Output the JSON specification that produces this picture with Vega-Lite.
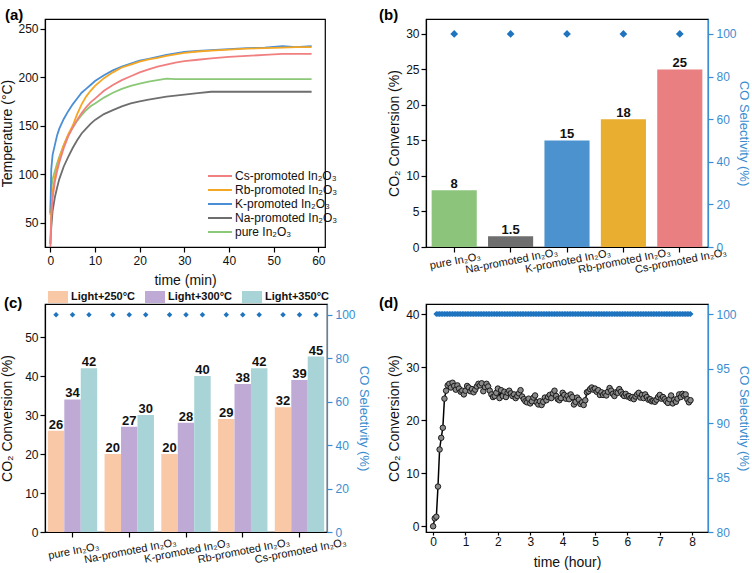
{
  "$schema": "https://vega.github.io/schema/vega-lite/v6.json",
  "padding": {"top": 7, "left": 0, "right": 3, "bottom": 0},
  "config": {
    "font": "Liberation Sans",
    "view": {"stroke": "black", "strokeWidth": 1.2},
    "axis": {"grid": false, "domainColor": "black", "tickColor": "black", "labelColor": "#111", "titleColor": "#111", "labelFontSize": 12, "titleFontSize": 14, "titleFontWeight": "normal", "tickSize": 5, "labelPadding": 2, "domainWidth": 1.2, "tickWidth": 1.2, "labelFlush": false, "labelOverlap": false, "zindex": 1},
    "title": {"fontSize": 15, "fontWeight": "bold", "anchor": "start", "frame": "group", "color": "black"}
  },
  "resolve": {"scale": {"color": "independent"}, "legend": {"color": "independent"}},
  "columns": 2,
  "spacing": {"row": 57, "column": 99},
  "bounds": "flush",
  "concat": [
    {
      "width": 280, "height": 228,
      "title": {"text": "(a)", "dx": -40, "offset": -4},
      "data": {"values": [
        {"t":0,"Cs":25,"Rb":28,"K":60,"Na":28,"pure":58},
        {"t":0.2,"Cs":55,"Rb":60,"K":105,"Na":45,"pure":85},
        {"t":0.5,"Cs":75,"Rb":82,"K":120,"Na":62,"pure":95},
        {"t":1,"Cs":92,"Rb":97,"K":130,"Na":76,"pure":103},
        {"t":1.5,"Cs":103,"Rb":107,"K":140,"Na":86,"pure":111},
        {"t":2,"Cs":112,"Rb":116,"K":147,"Na":95,"pure":118},
        {"t":3,"Cs":127,"Rb":130,"K":157,"Na":108,"pure":130},
        {"t":4,"Cs":139,"Rb":141,"K":165,"Na":118,"pure":140},
        {"t":5,"Cs":148,"Rb":150,"K":172,"Na":127,"pure":148},
        {"t":6,"Cs":156,"Rb":162,"K":178,"Na":135,"pure":155},
        {"t":7,"Cs":163,"Rb":172,"K":184,"Na":142,"pure":161},
        {"t":8,"Cs":169,"Rb":180,"K":188,"Na":147,"pure":166},
        {"t":9,"Cs":174,"Rb":186,"K":192,"Na":152,"pure":170},
        {"t":10,"Cs":178,"Rb":191,"K":196,"Na":156,"pure":173},
        {"t":12,"Cs":186,"Rb":199,"K":202,"Na":162,"pure":179},
        {"t":14,"Cs":192,"Rb":205,"K":207,"Na":166,"pure":184},
        {"t":16,"Cs":197,"Rb":210,"K":211,"Na":170,"pure":188},
        {"t":18,"Cs":201,"Rb":213,"K":214,"Na":173,"pure":191},
        {"t":20,"Cs":205,"Rb":216,"K":217,"Na":175,"pure":193.5},
        {"t":22,"Cs":208,"Rb":218.5,"K":219,"Na":177,"pure":195.5},
        {"t":24,"Cs":211,"Rb":220,"K":221,"Na":178.5,"pure":197},
        {"t":26,"Cs":213,"Rb":222,"K":223,"Na":180,"pure":198.5},
        {"t":28,"Cs":215,"Rb":223.5,"K":224.5,"Na":181,"pure":198},
        {"t":30,"Cs":216.5,"Rb":225,"K":226,"Na":182,"pure":198},
        {"t":33,"Cs":218,"Rb":226.5,"K":227,"Na":183.5,"pure":198},
        {"t":36,"Cs":219.5,"Rb":227.5,"K":228,"Na":185,"pure":198},
        {"t":40,"Cs":221,"Rb":228.5,"K":229,"Na":185,"pure":198},
        {"t":44,"Cs":222,"Rb":229.5,"K":230,"Na":185,"pure":198},
        {"t":48,"Cs":223,"Rb":230,"K":230.5,"Na":185,"pure":198},
        {"t":52,"Cs":224,"Rb":230.5,"K":232,"Na":185,"pure":198},
        {"t":55,"Cs":224,"Rb":231,"K":231,"Na":185,"pure":198},
        {"t":58.5,"Cs":224,"Rb":231,"K":232,"Na":185,"pure":198}
      ]},
      "transform": [{"fold": ["pure", "Na", "K", "Rb", "Cs"], "as": ["s", "T"]}],
      "mark": {"type": "line", "strokeWidth": 1.8, "clip": true},
      "encoding": {
        "x": {"field": "t", "type": "quantitative", "scale": {"domain": [-1.2, 61.5], "nice": false, "zero": false}, "axis": {"title": "time (min)", "values": [0, 10, 20, 30, 40, 50, 60], "labelPadding": 3, "titlePadding": 7}},
        "y": {"field": "T", "type": "quantitative", "scale": {"domain": [25, 260], "nice": false, "zero": false}, "axis": {"title": "Temperature (°C)", "values": [50, 100, 150, 200, 250], "titlePadding": 3}},
        "color": {"field": "s", "type": "nominal", "scale": {"domain": ["Cs", "Rb", "K", "Na", "pure"], "range": ["#F07F7F", "#F5A623", "#4A8FD6", "#6E6E6E", "#8BC878"]},
          "legend": {"orient": "none", "direction": "vertical", "legendX": 168, "legendY": 150, "title": null, "symbolType": "M-2,0H2", "symbolSize": 144, "symbolStrokeWidth": 2, "labelFontSize": 12, "labelOffset": 8, "rowPadding": 1, "padding": 0, "labelColor": "#111",
            "labelExpr": "{'Cs':'Cs-promoted In₂O₃','Rb':'Rb-promoted In₂O₃','K':'K-promoted In₂O₃','Na':'Na-promoted In₂O₃','pure':'pure In₂O₃'}[datum.label]"}}
      }
    },
    {
      "width": 282, "height": 228,
      "title": {"text": "(b)", "dx": -47, "offset": -4},
      "data": {"values": [
        {"cat": "pure In₂O₃", "conv": 8, "sel": 100},
        {"cat": "Na-promoted In₂O₃", "conv": 1.5, "sel": 100},
        {"cat": "K-promoted In₂O₃", "conv": 15, "sel": 100},
        {"cat": "Rb-promoted In₂O₃", "conv": 18, "sel": 100},
        {"cat": "Cs-promoted In₂O₃", "conv": 25, "sel": 100}
      ]},
      "encoding": {
        "x": {"field": "cat", "type": "nominal", "sort": null, "scale": {"paddingInner": 0.2, "paddingOuter": 0.1}, "axis": {"title": null, "labelAngle": -11, "labelAlign": "center", "labelBaseline": "top", "labelFontSize": 11, "labelDx": -11, "labelPadding": 3}}
      },
      "layer": [
        {"mark": {"type": "bar", "opacity": 1}, "encoding": {
          "y": {"field": "conv", "type": "quantitative", "stack": null, "scale": {"domain": [0, 32.1], "nice": false}, "axis": {"title": "CO₂ Conversion (%)", "values": [0, 5, 10, 15, 20, 25, 30], "titlePadding": 4}},
          "color": {"field": "cat", "type": "nominal", "scale": {"domain": ["pure In₂O₃", "Na-promoted In₂O₃", "K-promoted In₂O₃", "Rb-promoted In₂O₃", "Cs-promoted In₂O₃"], "range": ["#8DC47B", "#6E6E6E", "#4C92CE", "#E9AE2F", "#E97F80"]}, "legend": null}}},
        {"mark": {"type": "text", "fontWeight": "bold", "fontSize": 13, "baseline": "alphabetic", "dy": -2, "color": "#111"}, "encoding": {
          "y": {"field": "conv", "type": "quantitative", "scale": {"domain": [0, 32.1], "nice": false}, "axis": null},
          "text": {"field": "conv", "type": "quantitative", "format": ""}}},
        {"mark": {"type": "point", "shape": "diamond", "filled": true, "size": 60, "color": "#1F74BF", "opacity": 1}, "encoding": {
          "y": {"field": "sel", "type": "quantitative", "scale": {"domain": [0, 107], "nice": false}, "axis": {"orient": "right", "title": "CO Selectivity (%)", "values": [0, 20, 40, 60, 80, 100], "domainColor": "#3A8DD0", "tickColor": "#3A8DD0", "labelColor": "#3A8DD0", "titleColor": "#3A8DD0", "labelPadding": 3, "titlePadding": 0, "titleFontSize": 13}}}}
      ],
      "resolve": {"scale": {"y": "independent"}}
    },
    {
      "width": 282, "height": 228,
      "title": {"text": "(c)", "dx": -41, "offset": -24},
      "data": {"values": [
        {"cat": "pure In₂O₃", "temp": "Light+250°C", "conv": 26, "sel": 100},
        {"cat": "pure In₂O₃", "temp": "Light+300°C", "conv": 34, "sel": 100},
        {"cat": "pure In₂O₃", "temp": "Light+350°C", "conv": 42, "sel": 100},
        {"cat": "Na-promoted In₂O₃", "temp": "Light+250°C", "conv": 20, "sel": 100},
        {"cat": "Na-promoted In₂O₃", "temp": "Light+300°C", "conv": 27, "sel": 100},
        {"cat": "Na-promoted In₂O₃", "temp": "Light+350°C", "conv": 30, "sel": 100},
        {"cat": "K-promoted In₂O₃", "temp": "Light+250°C", "conv": 20, "sel": 100},
        {"cat": "K-promoted In₂O₃", "temp": "Light+300°C", "conv": 28, "sel": 100},
        {"cat": "K-promoted In₂O₃", "temp": "Light+350°C", "conv": 40, "sel": 100},
        {"cat": "Rb-promoted In₂O₃", "temp": "Light+250°C", "conv": 29, "sel": 100},
        {"cat": "Rb-promoted In₂O₃", "temp": "Light+300°C", "conv": 38, "sel": 100},
        {"cat": "Rb-promoted In₂O₃", "temp": "Light+350°C", "conv": 42, "sel": 100},
        {"cat": "Cs-promoted In₂O₃", "temp": "Light+250°C", "conv": 32, "sel": 100},
        {"cat": "Cs-promoted In₂O₃", "temp": "Light+300°C", "conv": 39, "sel": 100},
        {"cat": "Cs-promoted In₂O₃", "temp": "Light+350°C", "conv": 45, "sel": 100}
      ]},
      "encoding": {
        "x": {"field": "cat", "type": "nominal", "sort": null, "scale": {"paddingInner": 0.13, "paddingOuter": 0.05}, "axis": {"title": null, "labelAngle": -11, "labelAlign": "center", "labelBaseline": "top", "labelFontSize": 11, "labelPadding": 8}},
        "xOffset": {"field": "temp", "type": "nominal", "sort": null, "scale": {"paddingInner": 0, "paddingOuter": 0}}
      },
      "layer": [
        {"mark": {"type": "bar", "opacity": 1}, "encoding": {
          "y": {"field": "conv", "type": "quantitative", "stack": null, "scale": {"domain": [0, 58.5], "nice": false}, "axis": {"title": "CO₂ Conversion (%)", "values": [0, 10, 20, 30, 40, 50], "titlePadding": 10}},
          "color": {"field": "temp", "type": "nominal", "scale": {"domain": ["Light+250°C", "Light+300°C", "Light+350°C"], "range": ["#F9C8A6", "#BFAAD6", "#A8D3D7"]},
            "legend": {"orient": "none", "direction": "horizontal", "legendX": 3, "legendY": -17, "title": null, "symbolType": "M-1,-0.6H1V0.6H-1Z", "symbolSize": 400, "symbolStrokeWidth": 0, "symbolOpacity": 1, "labelFontSize": 11, "labelFontWeight": "bold", "labelOffset": 3, "columnPadding": 10, "padding": 0, "labelColor": "#111"}}}},
        {"mark": {"type": "text", "fontWeight": "bold", "fontSize": 13, "baseline": "alphabetic", "dy": -2, "color": "#111"}, "encoding": {
          "y": {"field": "conv", "type": "quantitative", "scale": {"domain": [0, 58.5], "nice": false}, "axis": null},
          "text": {"field": "conv", "type": "quantitative", "format": ""}}},
        {"mark": {"type": "point", "shape": "diamond", "filled": true, "size": 30, "color": "#1F74BF", "opacity": 1}, "encoding": {
          "y": {"field": "sel", "type": "quantitative", "scale": {"domain": [0, 105], "nice": false}, "axis": {"orient": "right", "title": "CO Selectivity (%)", "values": [0, 20, 40, 60, 80, 100], "domainColor": "#3A8DD0", "tickColor": "#3A8DD0", "labelColor": "#3A8DD0", "titleColor": "#3A8DD0", "labelPadding": 3, "titlePadding": 1, "titleFontSize": 13}}}}
      ],
      "resolve": {"scale": {"y": "independent"}}
    },
    {
      "width": 282, "height": 228,
      "title": {"text": "(d)", "dx": -47, "offset": -7},
      "data": {"values": [
        {"t":0,"v":0},{"t":0.05,"v":1.5},{"t":0.1,"v":1.8,"s":100},{"t":0.15,"v":7.5,"s":100},{"t":0.2,"v":14.5,"s":100},{"t":0.25,"v":16.7,"s":100},{"t":0.3,"v":18.6,"s":100},{"t":0.35,"v":24.1,"s":100},{"t":0.4,"v":25.6,"s":100},{"t":0.45,"v":26.6,"s":100},
        {"t":0.5,"v":26.9,"s":100},{"t":0.55,"v":26.2,"s":100},{"t":0.6,"v":27.1,"s":100},{"t":0.65,"v":26.5,"s":100},{"t":0.7,"v":25.8,"s":100},{"t":0.75,"v":26.6,"s":100},{"t":0.8,"v":26.0,"s":100},{"t":0.85,"v":25.4,"s":100},{"t":0.9,"v":25.6,"s":100},{"t":0.95,"v":24.9,"s":100},
        {"t":1.0,"v":25.6,"s":100},{"t":1.05,"v":26.5,"s":100},{"t":1.1,"v":26.2,"s":100},{"t":1.15,"v":25.5,"s":100},{"t":1.2,"v":25.9,"s":100},{"t":1.25,"v":25.3,"s":100},{"t":1.3,"v":25.8,"s":100},{"t":1.35,"v":26.4,"s":100},{"t":1.4,"v":26.9,"s":100},{"t":1.45,"v":26.6,"s":100},
        {"t":1.5,"v":27.0,"s":100},{"t":1.55,"v":25.5,"s":100},{"t":1.6,"v":26.3,"s":100},{"t":1.65,"v":26.9,"s":100},{"t":1.7,"v":26.4,"s":100},{"t":1.75,"v":25.6,"s":100},{"t":1.8,"v":24.9,"s":100},{"t":1.85,"v":24.4,"s":100},{"t":1.9,"v":24.6,"s":100},{"t":1.95,"v":25.2,"s":100},
        {"t":2.0,"v":26.0,"s":100},{"t":2.05,"v":24.2,"s":100},{"t":2.1,"v":25.7,"s":100},{"t":2.15,"v":24.6,"s":100},{"t":2.2,"v":25.4,"s":100},{"t":2.25,"v":24.4,"s":100},{"t":2.3,"v":25.2,"s":100},{"t":2.35,"v":25.6,"s":100},{"t":2.4,"v":25.1,"s":100},{"t":2.45,"v":24.6,"s":100},
        {"t":2.5,"v":24.9,"s":100},{"t":2.55,"v":24.2,"s":100},{"t":2.6,"v":24.6,"s":100},{"t":2.65,"v":25.1,"s":100},{"t":2.7,"v":25.7,"s":100},{"t":2.75,"v":24.5,"s":100},{"t":2.8,"v":24.0,"s":100},{"t":2.85,"v":23.6,"s":100},{"t":2.9,"v":23.4,"s":100},{"t":2.95,"v":24.1,"s":100},
        {"t":3.0,"v":23.2,"s":100},{"t":3.05,"v":23.6,"s":100},{"t":3.1,"v":24.3,"s":100},{"t":3.15,"v":24.7,"s":100},{"t":3.2,"v":23.4,"s":100},{"t":3.25,"v":23.0,"s":100},{"t":3.3,"v":23.6,"s":100},{"t":3.35,"v":22.9,"s":100},{"t":3.4,"v":23.5,"s":100},{"t":3.45,"v":24.3,"s":100},
        {"t":3.5,"v":23.8,"s":100},{"t":3.55,"v":24.4,"s":100},{"t":3.6,"v":24.8,"s":100},{"t":3.65,"v":24.2,"s":100},{"t":3.7,"v":25.1,"s":100},{"t":3.75,"v":25.6,"s":100},{"t":3.8,"v":24.6,"s":100},{"t":3.85,"v":24.0,"s":100},{"t":3.9,"v":23.8,"s":100},{"t":3.95,"v":24.2,"s":100},
        {"t":4.0,"v":25.2,"s":100},{"t":4.05,"v":24.8,"s":100},{"t":4.1,"v":24.1,"s":100},{"t":4.15,"v":24.6,"s":100},{"t":4.2,"v":24.0,"s":100},{"t":4.25,"v":24.9,"s":100},{"t":4.3,"v":24.4,"s":100},{"t":4.35,"v":23.0,"s":100},{"t":4.4,"v":23.5,"s":100},{"t":4.45,"v":24.3,"s":100},
        {"t":4.5,"v":23.9,"s":100},{"t":4.55,"v":23.1,"s":100},{"t":4.6,"v":23.4,"s":100},{"t":4.65,"v":22.9,"s":100},{"t":4.7,"v":23.8,"s":100},{"t":4.75,"v":25.3,"s":100},{"t":4.8,"v":25.5,"s":100},{"t":4.85,"v":25.9,"s":100},{"t":4.9,"v":26.2,"s":100},{"t":4.95,"v":25.8,"s":100},
        {"t":5.0,"v":26.0,"s":100},{"t":5.05,"v":25.4,"s":100},{"t":5.1,"v":25.7,"s":100},{"t":5.15,"v":24.8,"s":100},{"t":5.2,"v":25.3,"s":100},{"t":5.25,"v":24.8,"s":100},{"t":5.3,"v":25.1,"s":100},{"t":5.35,"v":24.7,"s":100},{"t":5.4,"v":25.4,"s":100},{"t":5.45,"v":26.1,"s":100},
        {"t":5.5,"v":25.6,"s":100},{"t":5.55,"v":25.0,"s":100},{"t":5.6,"v":24.6,"s":100},{"t":5.65,"v":25.3,"s":100},{"t":5.7,"v":25.2,"s":100},{"t":5.75,"v":25.9,"s":100},{"t":5.8,"v":25.4,"s":100},{"t":5.85,"v":24.9,"s":100},{"t":5.9,"v":24.6,"s":100},{"t":5.95,"v":25.0,"s":100},
        {"t":6.0,"v":24.5,"s":100},{"t":6.05,"v":24.6,"s":100},{"t":6.1,"v":24.2,"s":100},{"t":6.15,"v":24.4,"s":100},{"t":6.2,"v":24.0,"s":100},{"t":6.25,"v":24.5,"s":100},{"t":6.3,"v":24.9,"s":100},{"t":6.35,"v":25.2,"s":100},{"t":6.4,"v":24.3,"s":100},{"t":6.45,"v":24.8,"s":100},
        {"t":6.5,"v":24.2,"s":100},{"t":6.55,"v":24.9,"s":100},{"t":6.6,"v":24.4,"s":100},{"t":6.65,"v":23.9,"s":100},{"t":6.7,"v":24.0,"s":100},{"t":6.75,"v":23.6,"s":100},{"t":6.8,"v":23.7,"s":100},{"t":6.85,"v":23.5,"s":100},{"t":6.9,"v":23.9,"s":100},{"t":6.95,"v":24.4,"s":100},
        {"t":7.0,"v":24.8,"s":100},{"t":7.05,"v":24.1,"s":100},{"t":7.1,"v":24.4,"s":100},{"t":7.15,"v":24.0,"s":100},{"t":7.2,"v":23.6,"s":100},{"t":7.25,"v":23.3,"s":100},{"t":7.3,"v":24.0,"s":100},{"t":7.35,"v":24.7,"s":100},{"t":7.4,"v":23.2,"s":100},{"t":7.45,"v":23.9,"s":100},
        {"t":7.5,"v":23.5,"s":100},{"t":7.55,"v":24.1,"s":100},{"t":7.6,"v":24.9,"s":100},{"t":7.65,"v":24.4,"s":100},{"t":7.7,"v":25.0,"s":100},{"t":7.75,"v":24.7,"s":100},{"t":7.8,"v":24.9,"s":100},{"t":7.85,"v":24.0,"s":100},{"t":7.9,"v":23.4,"s":100},{"t":7.95,"v":23.8,"s":100}
      ]},
      "encoding": {
        "x": {"field": "t", "type": "quantitative", "scale": {"domain": [-0.22, 8.49], "nice": false, "zero": false}, "axis": {"title": "time (hour)", "values": [0, 1, 2, 3, 4, 5, 6, 7, 8], "tickSize": 3, "labelPadding": 1, "titlePadding": 8}}
      },
      "layer": [
        {"mark": {"type": "line", "color": "black", "strokeWidth": 1.5, "point": {"filled": true, "fill": "#8a8a8a", "stroke": "#1a1a1a", "strokeWidth": 1, "size": 30}}, "encoding": {
          "y": {"field": "v", "type": "quantitative", "scale": {"domain": [-1.08, 41.97], "nice": false, "zero": false}, "axis": {"title": "CO₂ Conversion (%)", "values": [0, 10, 20, 30, 40], "titlePadding": 4}}}},
        {"transform": [{"filter": "datum.s != null"}], "mark": {"type": "point", "shape": "diamond", "filled": true, "size": 36, "color": "#1F74BF", "opacity": 1}, "encoding": {
          "y": {"field": "s", "type": "quantitative", "scale": {"domain": [80, 100.92], "nice": false, "zero": false}, "axis": {"orient": "right", "title": "CO Selectivtiy (%)", "values": [80, 85, 90, 95, 100], "domainColor": "#3A8DD0", "tickColor": "#3A8DD0", "labelColor": "#3A8DD0", "titleColor": "#3A8DD0", "labelPadding": 3, "titlePadding": 0, "titleFontSize": 13}}}}
      ],
      "resolve": {"scale": {"y": "independent"}}
    }
  ]
}
